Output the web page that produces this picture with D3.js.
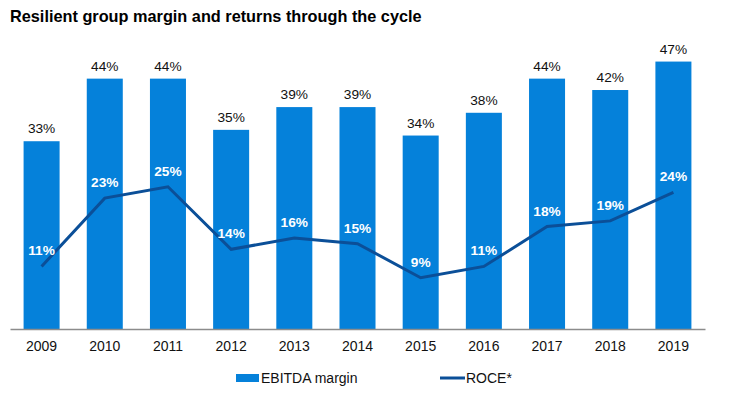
<!DOCTYPE html>
<html><head><meta charset="utf-8">
<script src="https://cdn.jsdelivr.net/npm/d3@7"></script>
<style>body{margin:0;background:#fff;}svg{display:block;font-family:"Liberation Sans",Arial,sans-serif;}</style>
</head><body>
<script>
const years = ["2009","2010","2011","2012","2013","2014","2015","2016","2017","2018","2019"];
const ebitda = [33,44,44,35,39,39,34,38,44,42,47];
const roce = [11,23,25,14,16,15,9,11,18,19,24];

const W=732,H=402;
const svg=d3.select("body").append("svg").attr("width",W).attr("height",H);
const x=d3.scaleBand().domain(years).range([10,705]).paddingInner(0.43).paddingOuter(0.215);
const y=d3.scaleLinear().domain([0,50]).range([329,44.5]);
const barC="#0581da", lineC="#0b4f98";

svg.append("text").attr("x",10).attr("y",22).attr("font-size",16.3).attr("font-weight","bold").attr("fill","#000")
  .text("Resilient group margin and returns through the cycle");

svg.selectAll("rect.bar").data(years).enter().append("rect").attr("class","bar")
  .attr("x",d=>x(d)).attr("width",x.bandwidth())
  .attr("y",(d,i)=>y(ebitda[i])).attr("height",(d,i)=>y(0)-y(ebitda[i])).attr("fill",barC);

svg.selectAll("text.bl").data(years).enter().append("text").attr("class","bl")
  .attr("x",d=>x(d)+x.bandwidth()/2).attr("y",(d,i)=>y(ebitda[i])-8)
  .attr("text-anchor","middle").attr("font-size",13.7).attr("fill","#111").text((d,i)=>ebitda[i]+"%");

const ax=svg.append("g").attr("transform",`translate(0,${y(0)})`).call(d3.axisBottom(x).tickSize(0).tickPadding(12));
ax.select(".domain").attr("stroke","#8c8c8c").attr("stroke-width",1.5);
ax.selectAll("text").attr("font-size",14).attr("fill","#111").attr("font-family","Liberation Sans, Arial, sans-serif");

const line=d3.line().x((d,i)=>x(years[i])+x.bandwidth()/2).y(d=>y(d));
svg.append("path").datum(roce).attr("d",line).attr("fill","none").attr("stroke",lineC).attr("stroke-width",3);

svg.selectAll("text.rl").data(years).enter().append("text").attr("class","rl")
  .attr("x",d=>x(d)+x.bandwidth()/2).attr("y",(d,i)=>y(roce[i])-11)
  .attr("text-anchor","middle").attr("font-size",13.7).attr("font-weight","bold").attr("fill","#fff").text((d,i)=>roce[i]+"%");

const lg=svg.append("g");
lg.append("rect").attr("x",236).attr("y",374).attr("width",23).attr("height",8).attr("fill",barC);
lg.append("text").attr("x",261).attr("y",383).attr("font-size",14).attr("fill","#111").text("EBITDA margin");
lg.append("line").attr("x1",440).attr("x2",465).attr("y1",378).attr("y2",378).attr("stroke",lineC).attr("stroke-width",3);
lg.append("text").attr("x",466).attr("y",383).attr("font-size",14).attr("fill","#111").text("ROCE*");
</script>
</body></html>
